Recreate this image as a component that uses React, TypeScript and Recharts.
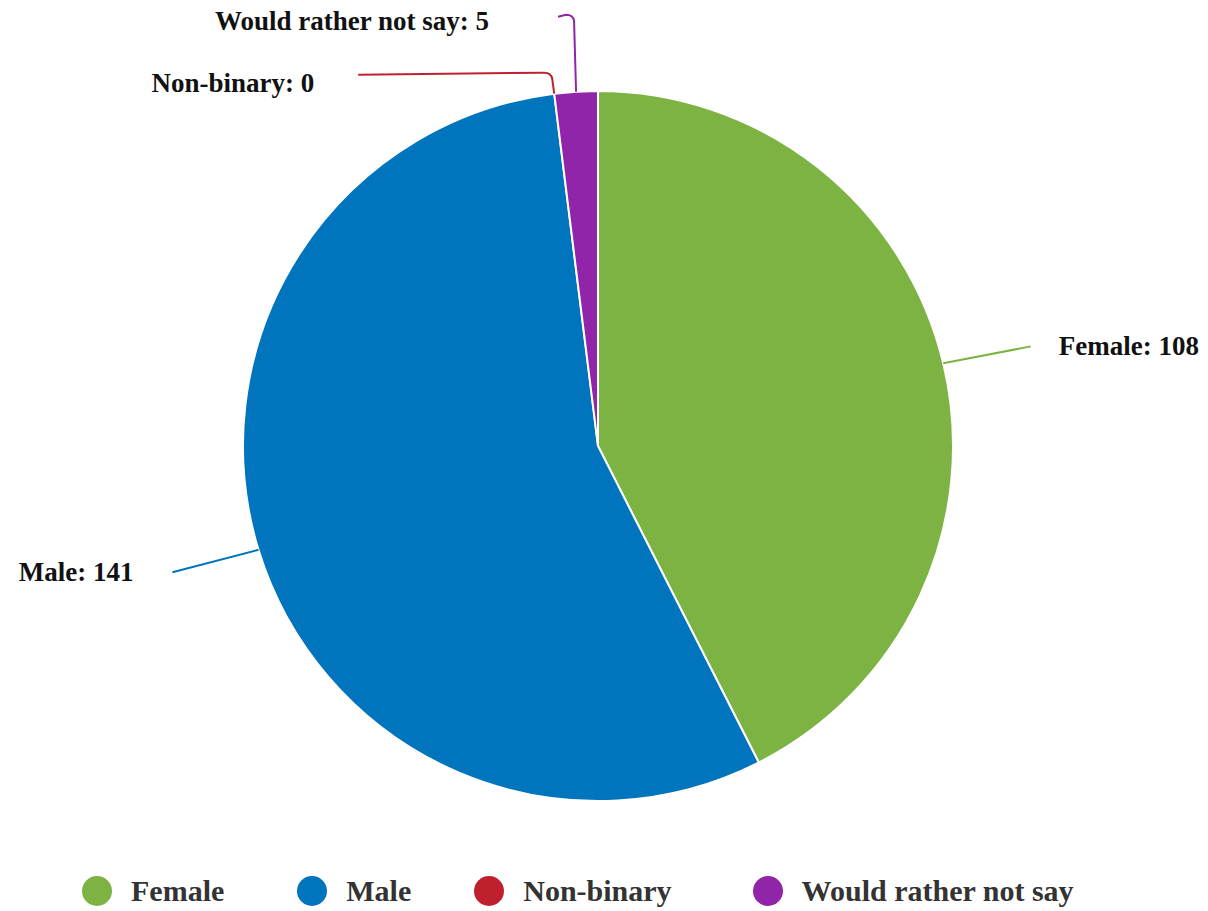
import { PieChart, Pie, Cell, Legend } from 'recharts'

document.body.style.margin = '0'

const categories = ['Female', 'Male', 'Non-binary', 'Would rather not say']
const counts = [108, 141, 0, 5]
const colors = ['#7cb342', '#0074bc', '#c0202e', '#9025a9']

const data = categories.map((name, i) => ({ name, value: counts[i] }))

const RAD = Math.PI / 180

// label placement tweaks per slice (Highcharts style pushes the top labels apart)
const labelLayout: Record<number, { kind: 'radial' | 'top'; rise?: number; run?: number; gap?: number; textDy?: number }> = {
  0: { kind: 'radial', gap: 28 },
  1: { kind: 'radial', gap: 39 },
  2: { kind: 'top', rise: 21, run: 190, gap: 44, textDy: 19 },
  3: { kind: 'top', rise: 77, run: 12, gap: 69, textDy: 15 },
}

const legendGaps = [73, 63, 81, 0]

const renderLabel = (props: any) => {
  const { cx, cy, midAngle, outerRadius, index, name, value } = props
  const color = colors[index]
  const sx = cx + outerRadius * Math.cos(-midAngle * RAD)
  const sy = cy + outerRadius * Math.sin(-midAngle * RAD)
  const layout = labelLayout[index]
  const text = `${name}: ${value}`
  const textStyle = { fontFamily: '"Liberation Serif", "Times New Roman", serif', fontWeight: 700, fontSize: 27 }
  const gap = layout.gap ?? 40

  if (layout.kind === 'radial') {
    const ex = cx + (outerRadius + 90) * Math.cos(-midAngle * RAD)
    const ey = cy + (outerRadius + 90) * Math.sin(-midAngle * RAD) + (index === 0 ? 4 : -4)
    const right = ex > cx
    return (
      <g>
        <path d={`M${sx},${sy} L${ex},${ey}`} stroke={color} strokeWidth={2} fill="none" />
        <text
          x={right ? ex + gap : ex - gap}
          y={ey + 9}
          textAnchor={right ? 'start' : 'end'}
          fill="#111"
          style={textStyle}
        >
          {text}
        </text>
      </g>
    )
  }

  const rise = layout.rise ?? 20
  const run = layout.run ?? 20
  const topY = sy - rise
  const endX = sx - 6 - run
  return (
    <g>
      <path
        d={`M${sx},${sy} L${sx - 2},${topY + 6} Q${sx - 3},${topY} ${sx - 10},${topY} L${endX},${topY + 2}`}
        stroke={color}
        strokeWidth={2}
        fill="none"
      />
      <text x={endX - gap} y={topY + (layout.textDy ?? 18)} textAnchor="end" fill="#111" style={textStyle}>
        {text}
      </text>
    </g>
  )
}

const renderLegend = () => (
  <div
    style={{
      display: 'flex',
      alignItems: 'center',
      paddingLeft: 82,
      fontFamily: '"Liberation Serif", "Times New Roman", serif',
      fontWeight: 700,
      fontSize: 30,
      color: '#333',
    }}
  >
    {categories.map((c, i) => (
      <div key={c} style={{ display: 'flex', alignItems: 'center', marginRight: legendGaps[i] }}>
        <span
          style={{
            width: 30,
            height: 30,
            borderRadius: '50%',
            background: colors[i],
            display: 'inline-block',
            marginRight: 19,
          }}
        />
        <span>{c}</span>
      </div>
    ))}
  </div>
)

export default function App() {
  return (
    <div style={{ width: 1208, height: 911, background: '#fff' }}>
      <PieChart width={1208} height={911} margin={{ top: 0, right: 0, bottom: 0, left: 0 }}>
        <Pie
          data={data}
          dataKey="value"
          nameKey="name"
          cx={598}
          cy={446}
          outerRadius={355}
          startAngle={90}
          endAngle={-270}
          stroke="#fff"
          strokeWidth={2}
          label={renderLabel}
          labelLine={false}
          isAnimationActive={false}
        >
          {data.map((d, i) => (
            <Cell key={d.name} fill={colors[i]} />
          ))}
        </Pie>
        <Legend
          verticalAlign="bottom"
          align="left"
          content={renderLegend}
          wrapperStyle={{ left: 0, bottom: 3, width: 1208 }}
        />
      </PieChart>
    </div>
  )
}
